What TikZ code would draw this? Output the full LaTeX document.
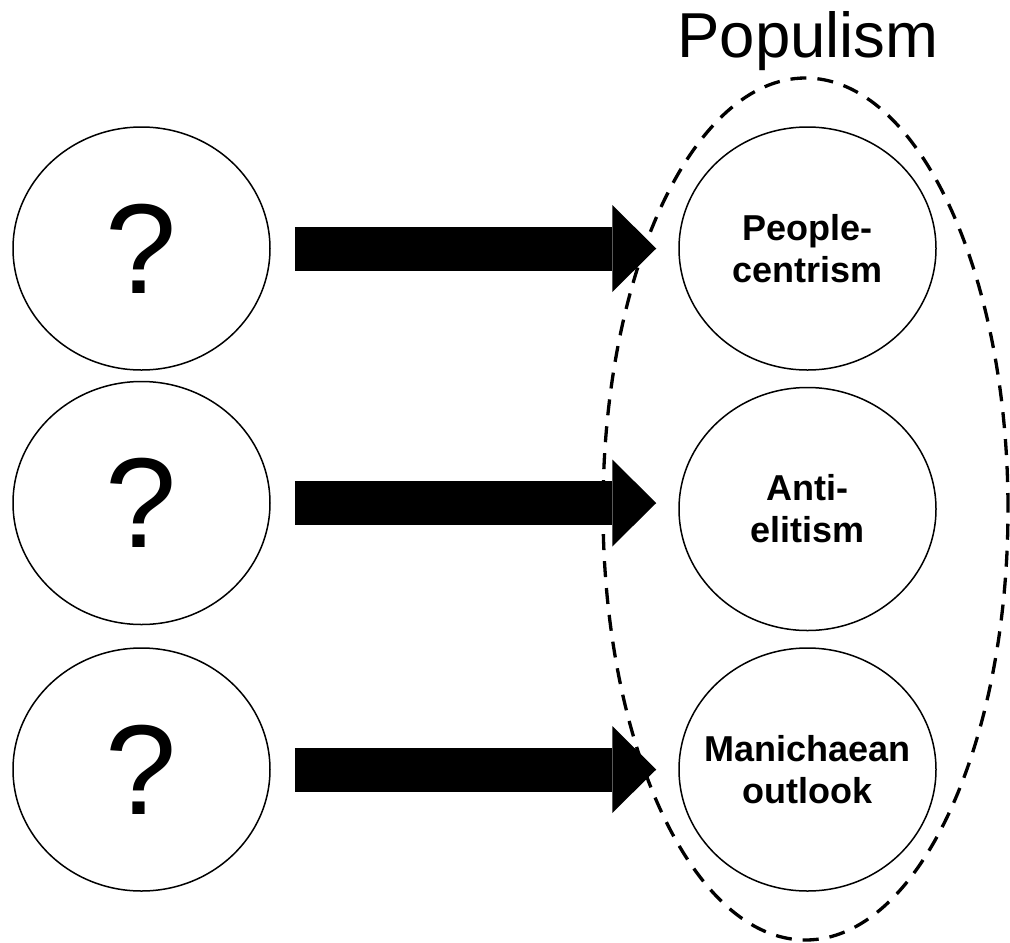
\documentclass[tikz,border=0pt]{standalone}
\usepackage{fontspec}
\setmainfont{Liberation Sans}
\usetikzlibrary{shapes.geometric,arrows.meta}
\begin{document}
\begin{tikzpicture}[x=1pt,y=-1pt,
  circ/.style={draw,ellipse,line width=1.5pt,minimum width=257pt,minimum height=243pt,inner sep=0pt},
  qmark/.style={circ,font=\fontsize{128}{128}\selectfont},
  dimtext/.style={font=\fontsize{36}{42}\selectfont\bfseries,align=center,inner sep=0pt},
  bigarrow/.style={line width=44pt,line cap=butt,-{Triangle[width=87pt,length=44pt,line width=0pt]},shorten <=24pt,shorten >=22pt},
  frontier/.style={draw,ellipse,line width=3.3pt,dash pattern=on 16pt off 11pt,minimum width=405pt,minimum height=862pt,inner sep=0pt}
]
\useasboundingbox (0,0) rectangle (1010,943);
\fill[white] (0,0) rectangle (1010,943);
\node[qmark] (q1) at (141.5,248.5) {?};
\node[qmark] (q2) at (141.5,503) {?};
\node[qmark] (q3) at (141.5,769.5) {?};
\node[circ] (p1) at (807.5,248.5) {};
\node[circ] (p2) at (807.5,509) {};
\node[circ] (p3) at (807.5,769.5) {};
\node[dimtext] (t1) at (p1) {People-\\centrism};
\node[dimtext] (t2) at (p2) {Anti-\\elitism};
\node[dimtext] (t3) at (p3) {Manichaean\\outlook};
\draw[bigarrow] (q1.east) -- (q1.east -| p1.west);
\draw[bigarrow] (q2.east) -- (q2.east -| p2.west);
\draw[bigarrow] (q3.east) -- (q3.east -| p3.west);
\node[frontier] (pop) at (805.5,509) {};
\node[font=\fontsize{63.5}{64}\selectfont,anchor=base] (title) at (808,57) {Populism};
\end{tikzpicture}
\end{document}
